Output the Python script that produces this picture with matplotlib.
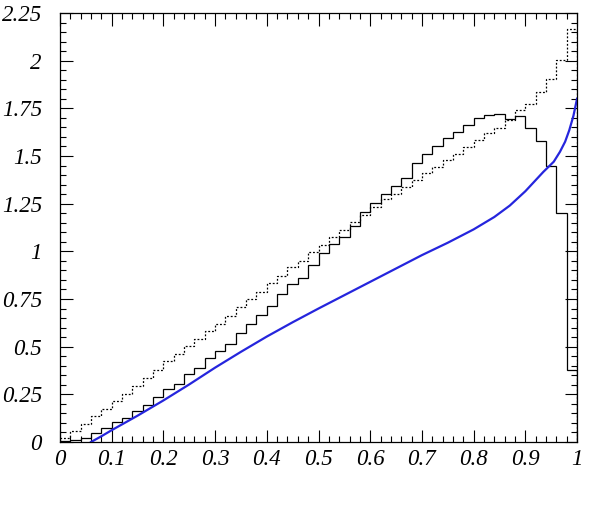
import matplotlib

matplotlib.use("Agg")

import matplotlib.pyplot as plt
import numpy as np
from matplotlib.ticker import MultipleLocator, FuncFormatter

# 50 bins of width 0.02 between 0 and 1
bin_lo, bin_hi, n_bins = 0.0, 1.0, 50

solid_hist = [0.005, 0.01, 0.021, 0.049, 0.073, 0.104, 0.126, 0.164, 0.196, 0.236,
              0.278, 0.304, 0.357, 0.388, 0.441, 0.476, 0.516, 0.572, 0.621, 0.665,
              0.714, 0.775, 0.827, 0.862, 0.928, 0.990, 1.037, 1.073, 1.134, 1.204,
              1.251, 1.299, 1.343, 1.382, 1.461, 1.508, 1.551, 1.593, 1.628, 1.661,
              1.701, 1.717, 1.722, 1.696, 1.708, 1.649, 1.581, 1.447, 1.199, 0.379]

dotted_hist = [0.021, 0.057, 0.094, 0.135, 0.172, 0.213, 0.253, 0.295, 0.334, 0.379,
               0.423, 0.463, 0.502, 0.540, 0.580, 0.621, 0.663, 0.706, 0.750, 0.789,
               0.832, 0.872, 0.919, 0.949, 0.995, 1.033, 1.077, 1.112, 1.152, 1.190,
               1.230, 1.272, 1.299, 1.335, 1.373, 1.412, 1.440, 1.477, 1.513, 1.545,
               1.583, 1.618, 1.649, 1.688, 1.740, 1.775, 1.834, 1.906, 2.002, 2.167]

curve_x = [0.06, 0.08, 0.1, 0.15, 0.2, 0.25, 0.3, 0.35, 0.4, 0.45, 0.5, 0.55, 0.6,
           0.65, 0.7, 0.75, 0.8, 0.84, 0.87, 0.9, 0.935, 0.955, 0.967, 0.977,
           0.985, 0.993, 1.0]
curve_y = [0.0, 0.03, 0.062, 0.138, 0.218, 0.302, 0.390, 0.473, 0.553, 0.628, 0.700,
           0.770, 0.840, 0.910, 0.980, 1.045, 1.115, 1.180, 1.240, 1.315, 1.417,
           1.47, 1.522, 1.575, 1.635, 1.71, 1.80]

fig = plt.figure(figsize=(5.9, 5.13), dpi=100)
ax = fig.add_axes([0.1017, 0.1384, 0.8763, 0.8363])

edges = np.linspace(bin_lo, bin_hi, n_bins + 1)
ax.stairs(solid_hist, edges, color="black", lw=0.9)
ax.stairs(dotted_hist, edges, color="black", lw=0.9, linestyle=(0, (1.5, 1.5)))
ax.plot(curve_x, curve_y, color="#2525dd", lw=1.6)

ax.set_xlim(0, 1)
ax.set_ylim(0, 2.25)

ax.xaxis.set_major_locator(MultipleLocator(0.1))
ax.xaxis.set_minor_locator(MultipleLocator(0.02))
ax.yaxis.set_major_locator(MultipleLocator(0.25))
ax.yaxis.set_minor_locator(MultipleLocator(0.05))

fmt = FuncFormatter(lambda v, _: ("%g" % round(v, 2)))
ax.xaxis.set_major_formatter(fmt)
ax.yaxis.set_major_formatter(fmt)

ax.tick_params(which="both", direction="in", top=True, right=True, width=0.8,
               colors="black")
ax.tick_params(which="major", length=9)
ax.tick_params(which="minor", length=4.5)
ax.tick_params(axis="y", which="major", pad=13)
ax.tick_params(axis="x", which="major", pad=5)
for lab in ax.get_xticklabels() + ax.get_yticklabels():
    lab.set_family("Liberation Serif")
    lab.set_style("italic")
    lab.set_fontsize(16.5)

for sp in ax.spines.values():
    sp.set_linewidth(0.9)

fig.savefig("out.png", dpi=100)
plt.close(fig)
